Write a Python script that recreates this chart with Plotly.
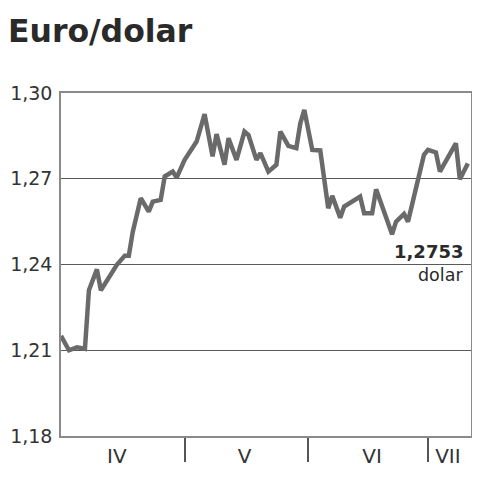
import plotly.graph_objects as go

# EUR/USD rate, spring-summer 2006
dates = [
    "2006-03-31", "2006-04-02", "2006-04-04", "2006-04-06", "2006-04-07", "2006-04-09",
    "2006-04-10", "2006-04-12", "2006-04-14", "2006-04-16", "2006-04-17", "2006-04-18",
    "2006-04-20", "2006-04-22", "2006-04-23", "2006-04-25", "2006-04-26", "2006-04-28",
    "2006-04-29", "2006-05-01", "2006-05-04", "2006-05-06", "2006-05-08", "2006-05-09",
    "2006-05-11", "2006-05-12", "2006-05-14", "2006-05-16", "2006-05-17", "2006-05-19",
    "2006-05-20", "2006-05-22", "2006-05-24", "2006-05-25", "2006-05-27", "2006-05-29",
    "2006-05-30", "2006-05-31", "2006-06-02", "2006-06-04", "2006-06-06", "2006-06-07",
    "2006-06-09", "2006-06-10", "2006-06-12", "2006-06-14", "2006-06-15", "2006-06-17",
    "2006-06-18", "2006-06-20", "2006-06-22", "2006-06-23", "2006-06-25", "2006-06-26",
    "2006-06-28", "2006-06-30", "2006-07-01", "2006-07-03", "2006-07-04", "2006-07-08",
    "2006-07-09", "2006-07-11",
]
rates = [
    1.2150, 1.2100, 1.2110, 1.2105, 1.2310, 1.2383,
    1.2310, 1.2352, 1.2399, 1.2431, 1.2431, 1.2515,
    1.2632, 1.2585, 1.2620, 1.2626, 1.2708, 1.2725,
    1.2704, 1.2766, 1.2830, 1.2926, 1.2778, 1.2856,
    1.2749, 1.2842, 1.2766, 1.2865, 1.2853, 1.2766,
    1.2790, 1.2725, 1.2749, 1.2865, 1.2815, 1.2807,
    1.2894, 1.2941, 1.2801, 1.2799, 1.2597, 1.2640,
    1.2564, 1.2603, 1.2620, 1.2638, 1.2579, 1.2579,
    1.2663, 1.2579, 1.2506, 1.2550, 1.2577, 1.2550,
    1.2673, 1.2784, 1.2801, 1.2792, 1.2725, 1.2824,
    1.2698, 1.2753,
]

y_ticks = [1.18, 1.21, 1.24, 1.27, 1.30]
month_labels = ["IV", "V", "VI", "VII"]
month_label_pos = ["2006-04-14", "2006-05-16", "2006-06-17", "2006-07-06"]
month_starts = ["2006-05-01", "2006-06-01", "2006-07-01"]

title_text = "Euro/dolar"
unit_text = "dolar"

# the page body adds an 8px offset, so the figure is 472x472
W = H = 472

fig = go.Figure()
fig.add_trace(go.Scatter(
    x=dates, y=rates, mode="lines",
    line=dict(color="#6a6a6a", width=4.5),
    hoverinfo="skip", showlegend=False,
))

last_txt = f"{rates[-1]:.4f}".replace(".", ",")
fig.add_annotation(
    text=f"<b>{last_txt}</b>", xref="paper", x=0.985, xanchor="right",
    yref="y", y=1.24, yanchor="bottom", yshift=1, showarrow=False,
    font=dict(family="DejaVu Sans", size=18, color="#2a2a2a"),
)
fig.add_annotation(
    text=unit_text, xref="paper", x=0.985, xanchor="right",
    yref="y", y=1.24, yanchor="top", yshift=2, showarrow=False,
    font=dict(family="DejaVu Sans", size=17.5, color="#2a2a2a"),
)

fig.update_layout(
    width=W, height=H,
    margin=dict(l=53, r=9, t=85, b=44),
    paper_bgcolor="white", plot_bgcolor="white",
    separators=",.",
    title=dict(text=f"<b>{title_text}</b>", x=0, xanchor="left",
               y=1 - 23 / H, yanchor="middle",
               font=dict(family="DejaVu Sans", size=31.5, color="#2a2a2a")),
    xaxis=dict(
        type="date", range=["2006-03-31", "2006-07-11 19:00"],
        automargin=False,
        tickvals=month_label_pos, ticktext=month_labels,
        ticks="outside", ticklen=1, tickcolor="rgba(0,0,0,0)",
        tickfont=dict(family="DejaVu Sans", size=20, color="#333333"),
        showgrid=False, zeroline=False,
        showline=True, linecolor="#8a8a8a", linewidth=1.5, mirror=True,
        minor=dict(tickvals=month_starts, ticks="outside", ticklen=24,
                   tickcolor="#555555", tickwidth=1.5, showgrid=False),
    ),
    yaxis=dict(
        range=[1.18, 1.30], tickvals=y_ticks, tickformat=".2f",
        automargin=False,
        ticks="outside", ticklen=3, tickcolor="rgba(0,0,0,0)",
        tickfont=dict(family="DejaVu Sans", size=19, color="#333333"),
        showgrid=True, gridcolor="#5a5a5a", gridwidth=1.2,
        zeroline=False,
        showline=True, linecolor="#8a8a8a", linewidth=1.5, mirror=True,
    ),
)

fig.write_html("out.html")
